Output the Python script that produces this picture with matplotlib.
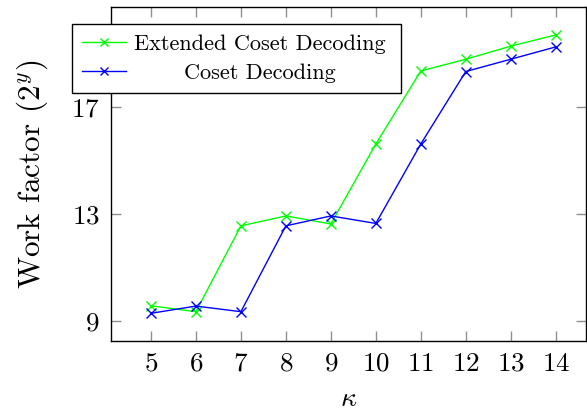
import matplotlib
matplotlib.use('Agg')
import matplotlib.pyplot as plt
from matplotlib.transforms import Affine2D

plt.rcParams['font.family'] = 'serif'
plt.rcParams['font.serif'] = ['cmr10', 'DejaVu Serif']
plt.rcParams['mathtext.fontset'] = 'cm'
plt.rcParams['axes.formatter.use_mathtext'] = True

kappa = [5, 6, 7, 8, 9, 10, 11, 12, 13, 14]
extended = [9.57, 9.35, 12.56, 12.93, 12.63, 15.62, 18.35, 18.79, 19.28, 19.70]
coset = [9.29, 9.56, 9.35, 12.56, 12.93, 12.65, 15.62, 18.33, 18.79, 19.25]
yticks = [9, 13, 17]

fig = plt.figure(figsize=(5.87, 4.17), dpi=100)
ax = fig.add_axes([0.189, 0.182, 0.809, 0.801])

ax.plot(kappa, extended, color='#00ff00', marker='x', markersize=7, linewidth=1,
        label='Extended Coset Decoding')
ax.plot(kappa, coset, color='#0000ff', marker='x', markersize=7, linewidth=1,
        label='Coset Decoding')

ax.set_xlim(4.11, 14.67)
ax.set_ylim(8.25, 20.74)
ax.set_xticks(kappa)
ax.set_yticks(yticks)
ax.tick_params(direction='in', length=7, width=1, color='#909090',
               top=True, right=True, labelsize=19.5, pad=8)
for s in ax.spines.values():
    s.set_linewidth(1)
    s.set_color('black')

ax.set_xlabel(r'$\kappa$', fontsize=20, labelpad=7)
ax.set_ylabel(r'Work factor $(2^y)$', fontsize=22.5, labelpad=15)

leg = ax.legend(loc='upper left',
                bbox_to_anchor=(72 / 587, 1 - 94 / 417, 329 / 587, 70 / 417),
                bbox_transform=fig.transFigure, mode='expand', fontsize=16,
                frameon=True, fancybox=False, edgecolor='black', framealpha=1,
                borderaxespad=0, handlelength=2.0, handletextpad=0.35,
                borderpad=0.45, labelspacing=0.45, markerscale=0.8)
leg.get_frame().set_linewidth(1)

# center the shorter entry under the longer one, as pgfplots does
fig.canvas.draw()
r = fig.canvas.get_renderer()
w0 = leg.texts[0].get_window_extent(r).width
w1 = leg.texts[1].get_window_extent(r).width
t = leg.texts[1]
t.set_transform(t.get_transform() + Affine2D().translate((w0 - w1) / 2, 0))

fig.savefig('out.png', dpi=100)
